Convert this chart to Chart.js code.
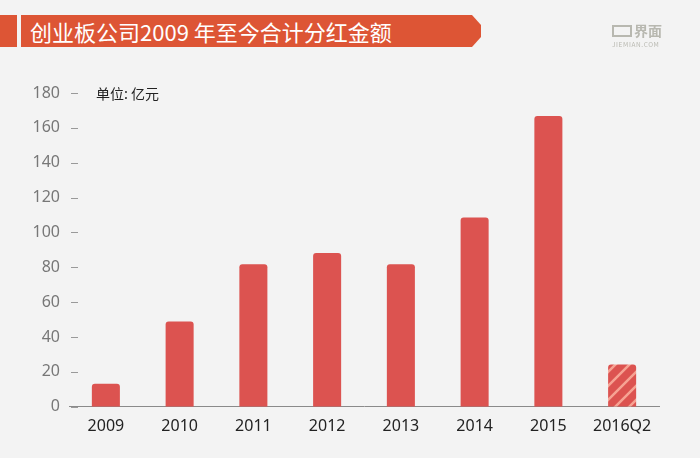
<!DOCTYPE html>
<html>
<head>
<meta charset="utf-8">
<script src="https://cdn.jsdelivr.net/npm/chart.js@4"></script>
<style>
  html, body { margin: 0; padding: 0; }
  body { width: 700px; height: 458px; background: #f3f3f3; position: relative; overflow: hidden;
         font-family: "Noto Sans CJK SC", "Noto Sans", sans-serif; }
  #wrap { position: absolute; left: 0; top: 0; width: 700px; height: 458px; }
  .tab { position: absolute; left: 0; top: 15px; width: 17px; height: 32px; background: #dd5535; }
  .banner { position: absolute; left: 21px; top: 15px; width: 460px; height: 32px; background: #dd5535;
            clip-path: polygon(0 0, 451px 0, 460px 10px, 460px 22px, 451px 32px, 0 32px);
            color: #fff; font-size: 22px; line-height: 32px; padding-left: 9px; box-sizing: border-box; }
  .unit { position: absolute; left: 96px; top: 83px; font-size: 14px; color: #222; }
  .logo { position: absolute; left: 612px; top: 23px; color: #b8b8b0; width: 50px; }
  .logo .icon { position: absolute; left: 0; top: 2px; width: 16px; height: 8px; border: 2px solid #b8b8b0; }
  .logo .name { position: absolute; left: 22px; top: -3px; font-size: 14px; font-weight: bold; }
  .logo .site { position: absolute; left: 0; top: 16px; font-size: 6.5px; letter-spacing: 0.6px; white-space: nowrap; }
</style>
</head>
<body>
<div id="wrap"><canvas id="chart" width="700" height="458"></canvas></div>
<div class="tab"></div>
<div class="banner">创业板公司2009 年至今合计分红金额</div>
<div class="unit">单位: 亿元</div>
<div class="logo"><span class="icon"></span><span class="name">界面</span><div class="site">JIEMIAN.COM</div></div>
<script>
const years = ['2009', '2010', '2011', '2012', '2013', '2014', '2015', '2016Q2']
const dividends = [13.2, 48.9, 81.7, 88.2, 81.7, 108.6, 166.8, 24.2]
const yTicks = [0, 20, 40, 60, 80, 100, 120, 140, 160, 180]

const barRed = '#dc5350'

// striped fill for the partial year
const makeStripes = () => {
  const c = document.createElement('canvas')
  c.width = 14
  c.height = 14
  const g = c.getContext('2d')
  g.fillStyle = barRed
  g.fillRect(0, 0, 14, 14)
  g.strokeStyle = 'rgba(255, 190, 170, 0.75)'
  g.lineWidth = 2.5
  g.beginPath()
  g.moveTo(-2, 16); g.lineTo(16, -2)
  g.moveTo(-9, 9); g.lineTo(9, -9)
  g.moveTo(5, 23); g.lineTo(23, 5)
  g.stroke()
  return g.createPattern(c, 'repeat')
}

const fills = years.map((y, i) => i === years.length - 1 ? makeStripes() : barRed)

// short dashes next to the y labels, sitting just inside the plot
const yDashes = {
  id: 'yDashes',
  afterDraw: chart => {
    const { ctx, scales: { y }, chartArea } = chart
    ctx.save()
    ctx.strokeStyle = '#999'
    ctx.lineWidth = 1
    y.ticks.forEach(t => {
      const py = Math.round(y.getPixelForValue(t.value)) + 0.5
      ctx.beginPath()
      ctx.moveTo(chartArea.left + 2, py)
      ctx.lineTo(chartArea.left + 9, py)
      ctx.stroke()
    })
    ctx.restore()
  }
}

const data = {
  labels: years,
  datasets: [{
    data: dividends,
    backgroundColor: fills,
    borderRadius: { topLeft: 3, topRight: 3 },
    borderSkipped: 'bottom',
    barPercentage: 0.38,
    categoryPercentage: 1
  }]
}

const options = {
  responsive: false,
  animation: false,
  layout: { padding: { top: 93, right: 41, bottom: 12, left: 0 } },
  plugins: {
    legend: { display: false },
    tooltip: { enabled: false }
  },
  scales: {
    x: {
      grid: { display: false, drawTicks: false },
      border: { color: '#8a8a8a', width: 1 },
      ticks: { color: '#222', font: { size: 16, family: 'Noto Sans' }, padding: 10 }
    },
    y: {
      min: 0,
      max: 180,
      afterBuildTicks: axis => { axis.ticks = yTicks.map(value => ({ value })) },
      afterFit: axis => { axis.width = 69 },
      grid: { display: false, drawTicks: false },
      border: { display: false },
      ticks: { color: '#777', font: { size: 16, family: 'Noto Sans' }, padding: 9 }
    }
  }
}

new Chart('chart', {
  type: 'bar',
  data,
  options,
  plugins: [yDashes]
})
</script>
</body>
</html>
